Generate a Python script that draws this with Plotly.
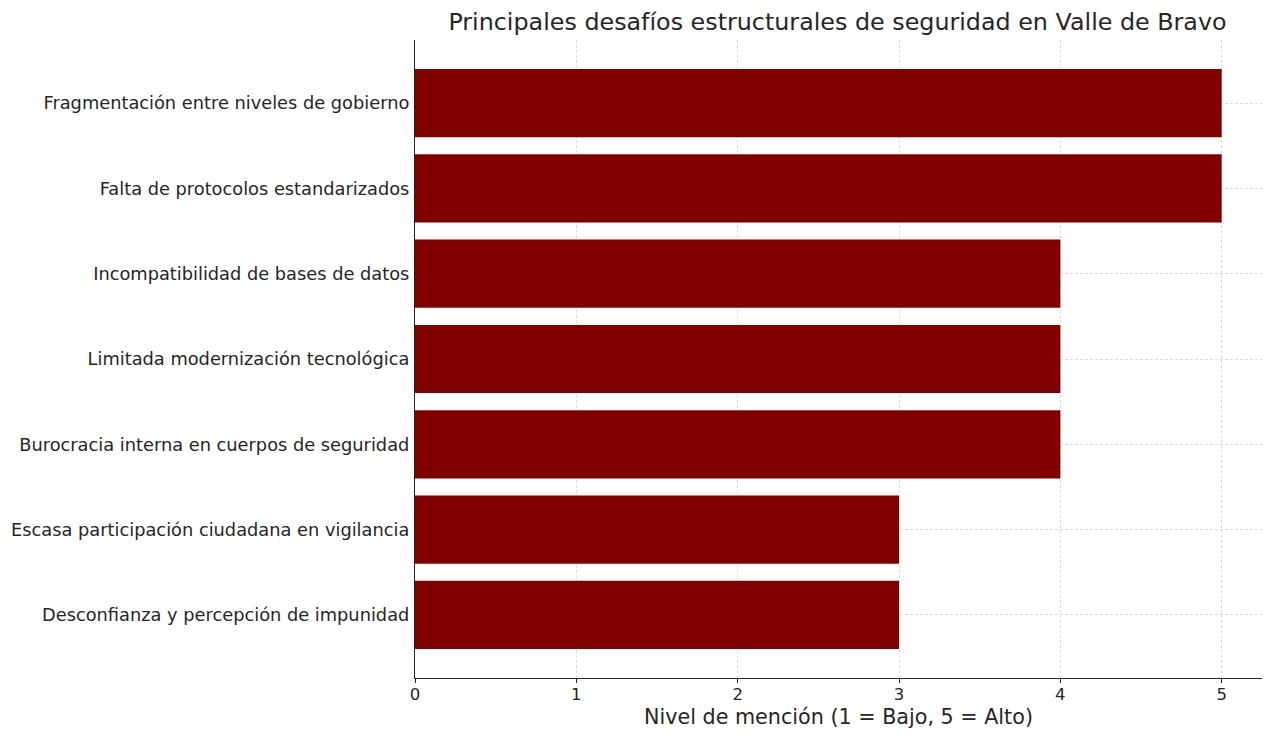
import plotly.graph_objects as go

categories = [
    "Fragmentación entre niveles de gobierno",
    "Falta de protocolos estandarizados",
    "Incompatibilidad de bases de datos",
    "Limitada modernización tecnológica",
    "Burocracia interna en cuerpos de seguridad",
    "Escasa participación ciudadana en vigilancia",
    "Desconfianza y percepción de impunidad",
]
values = [5, 5, 4, 4, 4, 3, 3]
x_ticks = [0, 1, 2, 3, 4, 5]

title_text = "Principales desafíos estructurales de seguridad en Valle de Bravo"
x_title = "Nivel de mención (1 = Bajo, 5 = Alto)"

font_family = "DejaVu Sans"
text_color = "#262626"

# page body has an 8px offset; figure sized to fill the rest of the window
W, H = 1266, 728

fig = go.Figure()
fig.add_trace(go.Bar(
    x=values,
    y=categories,
    orientation="h",
    width=0.8,
    marker=dict(color="#800000", line=dict(width=0)),
    hoverinfo="x+y",
))

n = len(categories)
fig.update_layout(
    template="none",
    width=W,
    height=H,
    margin=dict(l=407, r=12, t=32, b=58),
    paper_bgcolor="white",
    plot_bgcolor="white",
    showlegend=False,
    font=dict(family=font_family, color=text_color, size=17),
    title=dict(
        text=title_text,
        x=829.5 / W, xref="container", xanchor="center",
        y=1 - 14 / H, yref="container", yanchor="middle",
        font=dict(size=23.8, family=font_family, color=text_color),
    ),
    xaxis=dict(
        automargin=False,
        range=[0, max(values) * 1.05],
        tickvals=x_ticks,
        ticktext=[str(v) for v in x_ticks],
        ticks="outside", ticklen=4, tickcolor="#222", tickwidth=1,
        ticklabelstandoff=-3,
        showline=True, linecolor="#222", linewidth=1.2,
        showgrid=True, gridcolor="#dcdcdc", griddash="3px,2px", gridwidth=1,
        zeroline=False,
        tickfont=dict(size=16.5, family=font_family, color=text_color),
        title=dict(text=x_title, standoff=6,
                   font=dict(size=20.7, family=font_family, color=text_color)),
    ),
    yaxis=dict(
        automargin=False,
        type="category",
        categoryorder="array",
        categoryarray=categories,
        range=[n - 1 + 0.74, -0.74],
        ticks="", ticklabelstandoff=1,
        showline=True, linecolor="#222", linewidth=1.2,
        showgrid=True, gridcolor="#dcdcdc", griddash="3px,2px", gridwidth=1,
        zeroline=False,
        tickfont=dict(size=17.8, family=font_family, color=text_color),
    ),
)

fig.write_html("out.html")
